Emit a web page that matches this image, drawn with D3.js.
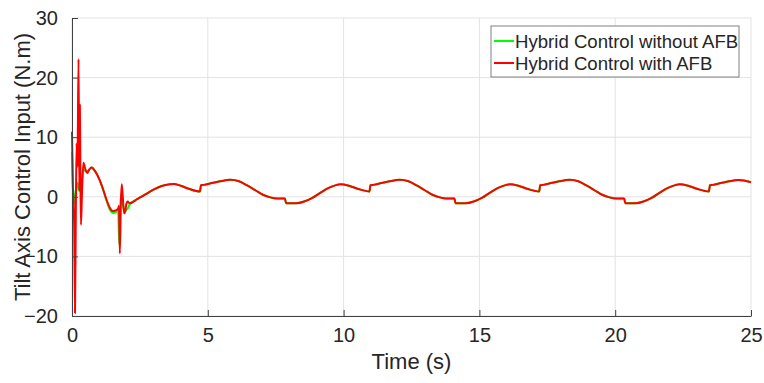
<!DOCTYPE html>
<html>
<head>
<meta charset="utf-8">
<script src="https://cdn.jsdelivr.net/npm/d3@7"></script>
<style>
  body { margin: 0; background: #fff; }
  svg text { font-family: "Liberation Sans", Arial, sans-serif; fill: #262626; }
</style>
</head>
<body>
<svg id="chart" width="764" height="383"></svg>
<script>
// tick values
var xTicks = [0, 5, 10, 15, 20, 25];
var yTicks = [-20, -10, 0, 10, 20, 30];

// transient part of each run, [time, torque]
var greenStart = [
  [0.00, 7.5], [0.04, 1.0], [0.07, -1.2], [0.10, -0.5], [0.15, 1.5], [0.20, 2.3],
  [0.25, 1.0], [0.30, 3.0], [0.35, 2.5], [0.42, 4.5], [0.50, 4.3], [0.60, 4.4],
  [0.72, 4.9], [0.85, 4.3], [1.02, 2.8], [1.15, 1.1], [1.27, -0.6], [1.40, -2.2],
  [1.50, -2.7], [1.60, -2.6], [1.70, -2.3], [1.74, -8.0], [1.78, -1.5], [1.82, 0.5],
  [1.88, -1.5], [1.93, -2.5], [2.00, -2.2], [2.06, -1.9], [2.12, -1.3]
];

var redStart = [
  [0.00, 10.9], [0.03, 2.0], [0.06, -1.0], [0.08, -5.0], [0.11, -19.5], [0.14, -3.0],
  [0.17, 9.0], [0.20, 5.0], [0.24, 23.1], [0.27, 1.0], [0.29, 15.4], [0.31, 3.0],
  [0.33, -4.7], [0.37, 1.0], [0.42, 5.7], [0.50, 4.5], [0.56, 4.0], [0.64, 4.6],
  [0.72, 4.9], [0.85, 4.3], [1.02, 2.8], [1.15, 1.2], [1.27, -0.5], [1.40, -1.9],
  [1.50, -2.4], [1.60, -2.3], [1.70, -2.0], [1.73, -1.5], [1.76, -9.5], [1.80, -1.0],
  [1.83, 2.1], [1.87, 0.0], [1.92, -2.8], [1.96, -2.5], [2.00, -1.2], [2.05, -0.8],
  [2.12, -1.1]
];

// steady part, both runs lie on top of each other here
var steady = [
  [2.40, -0.4], [2.70, 0.4], [3.00, 1.2], [3.30, 1.8], [3.60, 2.1], [3.75, 2.15],
  [4.00, 1.85], [4.30, 1.35], [4.71, 0.9],
  [4.75, 1.95], [4.85, 2.0], [5.15, 2.3], [5.45, 2.6], [5.83, 2.85], [6.15, 2.6],
  [6.45, 1.9], [6.75, 1.1], [7.05, 0.3], [7.30, -0.1], [7.55, -0.3], [7.84, -0.3],
  [7.88, -1.1], [8.25, -1.1], [8.55, -0.8], [8.85, -0.2], [9.15, 0.7], [9.45, 1.5],
  [9.75, 2.0], [9.88, 2.1], [10.20, 1.85], [10.55, 1.3], [10.95, 0.9],
  [10.99, 1.95], [11.09, 2.0], [11.39, 2.3], [11.69, 2.6], [12.07, 2.85], [12.39, 2.6],
  [12.69, 1.9], [12.99, 1.1], [13.29, 0.3], [13.54, -0.1], [13.79, -0.3], [14.08, -0.3],
  [14.12, -1.1], [14.49, -1.1], [14.79, -0.8], [15.09, -0.2], [15.39, 0.7], [15.69, 1.5],
  [15.99, 2.0], [16.12, 2.1], [16.44, 1.85], [16.79, 1.3], [17.20, 0.9],
  [17.24, 1.95], [17.34, 2.0], [17.64, 2.3], [17.94, 2.6], [18.32, 2.85], [18.64, 2.6],
  [18.94, 1.9], [19.24, 1.1], [19.54, 0.3], [19.79, -0.1], [20.04, -0.3], [20.33, -0.3],
  [20.37, -1.1], [20.74, -1.1], [21.04, -0.8], [21.34, -0.2], [21.64, 0.7], [21.94, 1.5],
  [22.24, 2.0], [22.37, 2.1], [22.69, 1.85], [23.04, 1.3], [23.45, 0.9],
  [23.49, 1.95], [23.59, 2.0], [23.89, 2.3], [24.19, 2.6], [24.55, 2.8], [25.00, 2.45]
];

var seriesNames = ["Hybrid Control without AFB", "Hybrid Control with AFB"];
var seriesColors = ["#00ff00", "#ff0000"];

var svg = d3.select("#chart");
var plotL = 72, plotR = 751, plotT = 18, plotB = 316;

var x = d3.scaleLinear().domain([0, 25]).range([plotL, plotR]);
var y = d3.scaleLinear().domain([-20, 30]).range([plotB, plotT]);

// grid
svg.append("g").selectAll("line").data(xTicks).enter().append("line")
  .attr("x1", function(d) { return x(d); }).attr("x2", function(d) { return x(d); })
  .attr("y1", plotT).attr("y2", plotB)
  .attr("stroke", "#e3e3e3").attr("stroke-width", 1);
svg.append("g").selectAll("line").data(yTicks).enter().append("line")
  .attr("x1", plotL).attr("x2", plotR)
  .attr("y1", function(d) { return y(d); }).attr("y2", function(d) { return y(d); })
  .attr("stroke", "#e3e3e3").attr("stroke-width", 1);

// lines
var line = d3.line()
  .x(function(d) { return x(d[0]); })
  .y(function(d) { return y(d[1]); })
  .curve(d3.curveMonotoneX);

var runs = [greenStart.concat(steady), redStart.concat(steady)];
runs.forEach(function(run, i) {
  svg.append("path")
    .datum(run)
    .attr("d", line)
    .attr("fill", "none")
    .attr("stroke", seriesColors[i])
    .attr("stroke-width", 2)
    .attr("stroke-linejoin", "round");
});

// axes, ticks inward
var xAxis = svg.append("g").attr("transform", "translate(0," + plotB + ")")
  .call(d3.axisBottom(x).tickValues(xTicks).tickSizeInner(-6).tickSizeOuter(0).tickPadding(12));
var yAxis = svg.append("g").attr("transform", "translate(" + plotL + ",0)")
  .call(d3.axisLeft(y).tickValues(yTicks).tickSizeInner(-6).tickSizeOuter(0).tickPadding(14));

[xAxis, yAxis].forEach(function(a) {
  a.select(".domain").attr("stroke", "#404040");
  a.selectAll(".tick line").attr("stroke", "#404040");
  a.selectAll(".tick text").attr("font-size", 20).attr("fill", "#262626")
    .attr("font-family", "Liberation Sans, Arial, sans-serif");
});

svg.append("text")
  .attr("x", (plotL + plotR) / 2).attr("y", 369)
  .attr("text-anchor", "middle").attr("font-size", 22)
  .text("Time (s)");

svg.append("text")
  .attr("transform", "translate(30," + ((plotT + plotB) / 2) + ") rotate(-90)")
  .attr("text-anchor", "middle").attr("font-size", 22)
  .text("Tilt Axis Control Input (N.m)");

// legend
var lg = svg.append("g");
lg.append("rect")
  .attr("x", 491).attr("y", 26).attr("width", 248).attr("height", 51)
  .attr("fill", "#fff").attr("stroke", "#808080").attr("stroke-width", 1);
seriesNames.forEach(function(name, i) {
  var ly = 41 + i * 22;
  lg.append("line")
    .attr("x1", 494).attr("x2", 514).attr("y1", ly).attr("y2", ly)
    .attr("stroke", seriesColors[i]).attr("stroke-width", 2);
  lg.append("text")
    .attr("x", 515).attr("y", ly).attr("dy", "0.35em")
    .attr("font-size", 18.6)
    .text(name);
});
</script>
</body>
</html>
